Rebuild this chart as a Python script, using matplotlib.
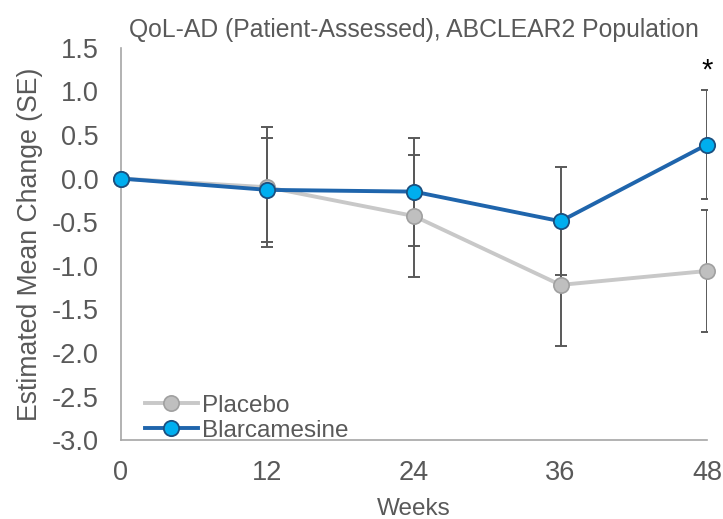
import matplotlib
matplotlib.use("Agg")
import matplotlib.pyplot as plt
import numpy as np

plt.rcParams['font.family'] = ['Liberation Sans', 'DejaVu Sans']

weeks = [0, 12, 24, 36, 48]
placebo = [0.0, -0.10, -0.43, -1.22, -1.06]
placebo_se = [0.0, 0.69, 0.70, 0.70, 0.70]
blarc = [0.0, -0.13, -0.15, -0.49, 0.39]
blarc_se = [0.0, 0.60, 0.62, 0.62, 0.63]
yticks = [1.5, 1.0, 0.5, 0.0, -0.5, -1.0, -1.5, -2.0, -2.5, -3.0]

title = "QoL-AD (Patient-Assessed), ABCLEAR2 Population"
xlabel = "Weeks"
ylabel = "Estimated Mean Change (SE)"

fig = plt.figure(figsize=(7.23, 5.19), dpi=100)
ax = fig.add_axes([0.167, 0.152, 0.811, 0.756])

txt = '#595959'
err_c = '#595959'

# error bars (clipped at axes edge, as in reference)
for vals, se in ((placebo, placebo_se), (blarc, blarc_se)):
    w = [x for x, s in zip(weeks, se) if s > 0]
    v = [y for y, s in zip(vals, se) if s > 0]
    e = [s for s in se if s > 0]
    ax.errorbar(w, v, yerr=e, fmt='none', ecolor=err_c, elinewidth=1.4,
                capsize=4.5, capthick=1.4, zorder=2)

ax.plot(weeks, placebo, color='#C8C8C8', lw=2.8, marker='o', ms=11,
        mfc='#BFBFBF', mec='#A0A0A0', mew=1.2, label='Placebo',
        clip_on=False, zorder=3)
ax.plot(weeks, blarc, color='#1F65AC', lw=2.8, marker='o', ms=11,
        mfc='#00AEEF', mec='#1B4F7F', mew=1.3, label='Blarcamesine',
        clip_on=False, zorder=4)

ax.set_xlim(0, 48)
ax.set_ylim(-3.0, 1.5)
ax.set_xticks(weeks)
ax.set_xticklabels([str(w) for w in weeks])
ax.set_yticks(yticks)
ax.set_yticklabels([f"{t:.1f}" for t in yticks])
ax.tick_params(axis='both', length=0, labelsize=19.5, colors=txt)
ax.tick_params(axis='x', pad=14)
ax.tick_params(axis='y', pad=16)

for s in ('top', 'right'):
    ax.spines[s].set_visible(False)
for s in ('left', 'bottom'):
    ax.spines[s].set_color('#A6A6A6')
    ax.spines[s].set_linewidth(1.2)

ax.set_title(title, fontsize=17.8, color=txt, pad=8)
ax.set_xlabel(xlabel, fontsize=17.5, color=txt, labelpad=9)
ax.set_ylabel(ylabel, fontsize=19.2, color=txt, labelpad=6)

ax.text(48, 1.24, '*', ha='center', va='center', fontsize=21, color='black')

leg = ax.legend(loc='lower left', bbox_to_anchor=(0.02, -0.035), frameon=False,
                fontsize=17.5, handlelength=2.2, handletextpad=0.15,
                labelspacing=0.12, borderaxespad=0.3, borderpad=0.2)
for t in leg.get_texts():
    t.set_color(txt)

fig.savefig('out.png', dpi=100)
